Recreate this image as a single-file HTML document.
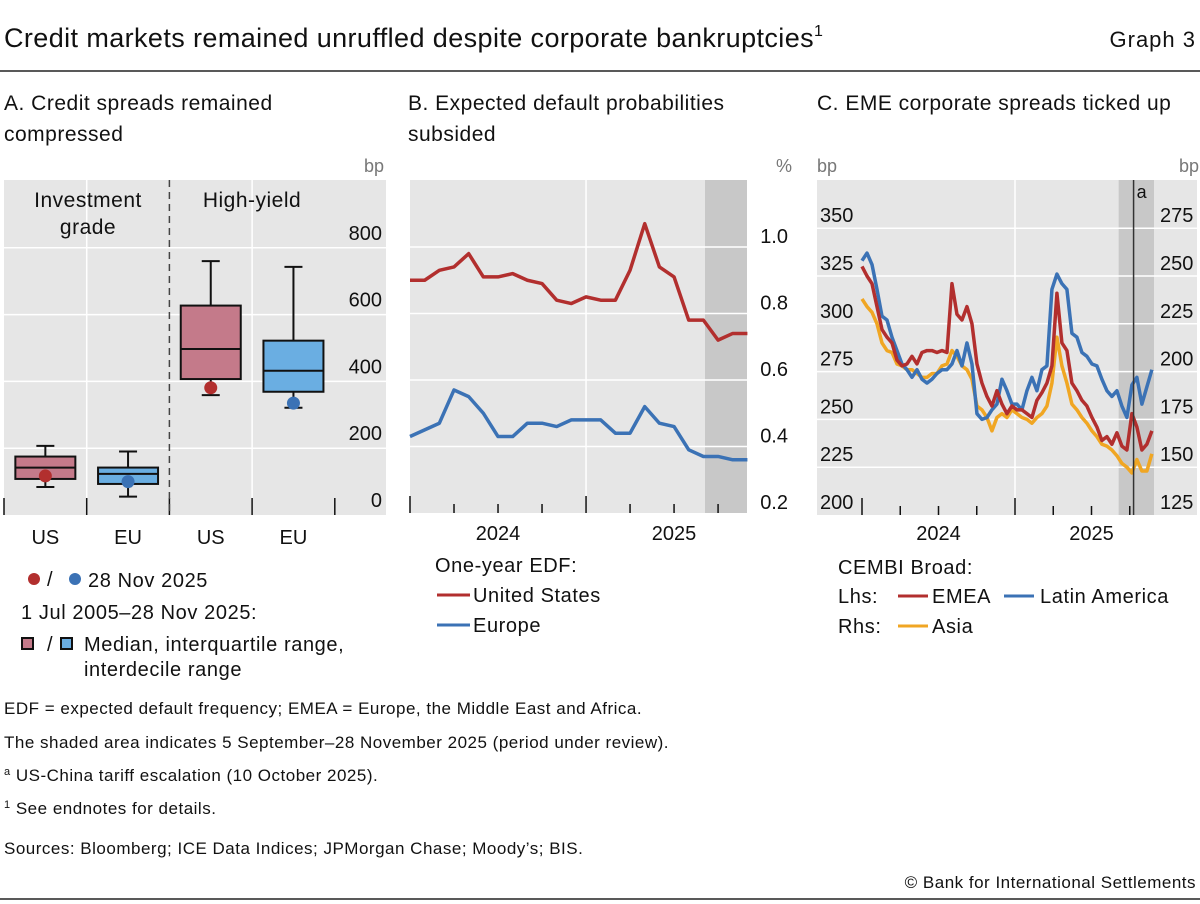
<!DOCTYPE html>
<html><head><meta charset="utf-8"><style>
body{margin:0;background:#fff;}
svg{display:block;font-family:"Liberation Sans",sans-serif;}
</style></head><body>
<svg id="c" width="1200" height="904" viewBox="0 0 1200 904" xmlns="http://www.w3.org/2000/svg">
<text x="4" y="47" font-size="27" letter-spacing="0.4" fill="#111">Credit markets remained unruffled despite corporate bankruptcies<tspan font-size="16" dy="-11">1</tspan></text>
<text x="1196" y="47" font-size="22" letter-spacing="1" text-anchor="end" fill="#111">Graph 3</text>
<line x1="0" y1="71" x2="1200" y2="71" stroke="#222" stroke-width="1.5"/>
<g font-size="21" letter-spacing="0.5" fill="#111">
<text x="4" y="110">A. Credit spreads remained<tspan x="4" y="141">compressed</tspan></text>
<text x="408" y="110">B. Expected default probabilities<tspan x="408" y="141">subsided</tspan></text>
<text x="817" y="110">C. EME corporate spreads ticked up</text>
</g>
<g id="pa"></g><g id="pb"></g><g id="pc"></g>
<g font-size="20" letter-spacing="0.6" fill="#111">
<circle cx="34" cy="579" r="6" fill="#b22f2e"/>
<text x="47" y="586">/</text>
<circle cx="75" cy="579" r="6" fill="#3b72b5"/>
<text x="88" y="587">28 Nov 2025</text>
<text x="21" y="619">1 Jul 2005–28 Nov 2025:</text>
<rect x="22" y="638" width="11" height="11" fill="#c47a8a" stroke="#111" stroke-width="2"/>
<text x="47" y="651">/</text>
<rect x="61" y="638" width="11" height="11" fill="#6aaee2" stroke="#111" stroke-width="2"/>
<text x="84" y="651">Median, interquartile range,<tspan x="84" y="676">interdecile range</tspan></text>
<text x="435" y="572">One-year EDF:</text>
<line x1="437" y1="595" x2="470" y2="595" stroke="#b22f2e" stroke-width="3"/>
<text x="473" y="602">United States</text>
<line x1="437" y1="625" x2="470" y2="625" stroke="#3b72b5" stroke-width="3"/>
<text x="473" y="632">Europe</text>
<text x="838" y="574">CEMBI Broad:</text>
<text x="838" y="603">Lhs:</text>
<line x1="898" y1="596" x2="928" y2="596" stroke="#b22f2e" stroke-width="3"/>
<text x="932" y="603">EMEA</text>
<line x1="1004" y1="596" x2="1034" y2="596" stroke="#3b72b5" stroke-width="3"/>
<text x="1040" y="603">Latin America</text>
<text x="838" y="633">Rhs:</text>
<line x1="898" y1="626" x2="928" y2="626" stroke="#f0a623" stroke-width="3"/>
<text x="932" y="633">Asia</text>
</g>
<g font-size="17" letter-spacing="0.5" fill="#111">
<text x="4" y="714">EDF = expected default frequency; EMEA = Europe, the Middle East and Africa.</text>
<text x="4" y="748">The shaded area indicates 5 September–28 November 2025 (period under review).</text>
<text x="4" y="781"><tspan font-size="11" dy="-6">a</tspan><tspan dy="6">  US-China tariff escalation (10 October 2025).</tspan></text>
<text x="4" y="814"><tspan font-size="11" dy="-6">1</tspan><tspan dy="6">  See endnotes for details.</tspan></text>
<text x="4" y="854">Sources: Bloomberg; ICE Data Indices; JPMorgan Chase; Moody’s; BIS.</text>
<text x="1196" y="888" text-anchor="end">© Bank for International Settlements</text>
</g>
<line x1="0" y1="899" x2="1200" y2="899" stroke="#222" stroke-width="1.5"/>
</svg>
<script>
// Panel A data
const boxCats = ["US","EU","US","EU"];
const boxP10 = [84,55,359,321];
const boxQ1 = [108,93,407,369];
const boxMed = [142,123,497,432];
const boxQ3 = [175,142,627,522];
const boxP90 = [207,190,760,743];
const boxLatest = [117,100,381,335];
const aTicks = [0,200,400,600,800];
// Panel B data
const edfMonths = 24;
const edfUS = [0.90,0.90,0.93,0.94,0.98,0.91,0.91,0.92,0.90,0.89,0.84,0.83,0.85,0.84,0.84,0.93,1.07,0.94,0.91,0.78,0.78,0.72,0.74,0.74];
const edfEU = [0.43,0.45,0.47,0.57,0.55,0.50,0.43,0.43,0.47,0.47,0.46,0.48,0.48,0.48,0.44,0.44,0.52,0.47,0.46,0.39,0.37,0.37,0.36,0.36];
const bTicks = [0.2,0.4,0.6,0.8,1.0];
const bYears = ["2024","2025"];
// Panel C data (months since Jan 2024, step per observation)
const cStepMonths = 0.392;
const cLatam = [333,337,331,318,304,302,293,286,279,276,272,276,271,269,271,274,276,276,279,286,278,290,279,253,250,251,255,258,271,265,258,258,255,265,272,265,276,278,318,326,321,318,295,293,285,283,279,278,271,265,262,265,257,251,268,272,258,267,276];
const cEmea = [330,325,321,309,297,293,290,281,278,279,283,279,285,286,286,285,286,285,321,305,302,309,300,279,269,262,257,265,258,253,257,255,255,253,251,260,264,269,278,316,290,286,269,265,260,257,251,246,239,241,237,243,236,234,253,246,234,237,244];
const cAsia = [238,234,231,225,215,211,210,204,203,201,201,199,197,197,199,199,203,204,211,208,203,201,196,182,180,176,169,176,178,176,180,178,176,175,173,176,178,182,194,218,203,194,183,180,176,173,169,166,162,161,159,156,152,150,147,154,148,148,157];
const cLhsTicks = [200,225,250,275,300,325,350];
const cRhsTicks = [125,150,175,200,225,250,275];
const cYears = ["2024","2025"];
const shadeStartMonth = 20.13, shadeEndMonth = 22.9, eventMonth = 21.3;

const NS="http://www.w3.org/2000/svg";
function mk(parent,tag,attrs,txt){const e=document.createElementNS(NS,tag);for(const k in attrs)e.setAttribute(k,attrs[k]);if(txt!==undefined)e.textContent=txt;parent.appendChild(e);return e;}
const RED="#b22f2e",BLUE="#3b72b5",YEL="#f0a623";

// ---- Panel A
(function(){
 const g=document.getElementById('pa');
 const x0=4,x1=386,top=180,bot=515;
 const y=v=>bot-(v/200)*66.8;
 let e=mk(g,'rect',{x:x0,y:top,width:x1-x0,height:bot-top,fill:"#e6e6e6"});
 
 aTicks.forEach(t=>{ if(t>0){let l=mk(g,'line',{x1:x0,x2:x1,y1:y(t),y2:y(t),stroke:"#fff","stroke-width":1.5});}
  let tx=mk(g,'text',{x:382,y:y(t)-8,"font-size":20,"text-anchor":"end",fill:"#111"},String(t));
  });
 e=mk(g,'text',{x:384,y:172,"font-size":18,"text-anchor":"end",fill:"#777"},"bp");
 const step=82.7, cx=i=>x0+step*(i+0.5);
 [1,3].forEach(i=>{let l=mk(g,'line',{x1:x0+step*i,x2:x0+step*i,y1:top,y2:bot,stroke:"#fff","stroke-width":1.5});});
 [0,1,2,3,4].forEach(i=>{let l=mk(g,'line',{x1:x0+step*i,x2:x0+step*i,y1:bot-17,y2:bot,stroke:"#111","stroke-width":1.5});});
 e=mk(g,'line',{x1:x0+step*2,x2:x0+step*2,y1:top,y2:bot,stroke:"#444","stroke-width":1.5,"stroke-dasharray":"7,5"});
 e=mk(g,'text',{x:88,y:207,"font-size":21,"letter-spacing":0.5,"text-anchor":"middle",fill:"#111"},"Investment");
 mk(g,'text',{x:88,y:234,"font-size":21,"letter-spacing":0.5,"text-anchor":"middle",fill:"#111"},"grade");
 e=mk(g,'text',{x:252,y:207,"font-size":21,"letter-spacing":0.5,"text-anchor":"middle",fill:"#111"},"High-yield");
 boxCats.forEach((c,i)=>{
  const X=cx(i), w=60, fill=i%2===0?"#c47a8a":"#6aaee2", dot=i%2===0?RED:BLUE;
  let wl=mk(g,'line',{x1:X,x2:X,y1:y(boxP90[i]),y2:y(boxP10[i]),stroke:"#111","stroke-width":2});
  
  [boxP90[i],boxP10[i]].forEach(v=>{let c2=mk(g,'line',{x1:X-9,x2:X+9,y1:y(v),y2:y(v),stroke:"#111","stroke-width":2});});
  let r=mk(g,'rect',{x:X-w/2,y:y(boxQ3[i]),width:w,height:y(boxQ1[i])-y(boxQ3[i]),fill:fill,stroke:"#111","stroke-width":2});
  
  let m=mk(g,'line',{x1:X-w/2,x2:X+w/2,y1:y(boxMed[i]),y2:y(boxMed[i]),stroke:"#111","stroke-width":2});
  
  let d=mk(g,'circle',{cx:X,cy:y(boxLatest[i]),r:6.5,fill:dot});
  
  let t=mk(g,'text',{x:X,y:544,"font-size":20,"text-anchor":"middle",fill:"#111"},c);
  
 });
})();

// ---- Panel B
(function(){
 const g=document.getElementById('pb');
 const x0=410,x1=747,top=180,bot=513;
 const xm=m=>410+m*14.67;
 const y=v=>bot-(v-0.2)/0.2*66.5;
 let e=mk(g,'rect',{x:x0,y:top,width:x1-x0,height:bot-top,fill:"#e6e6e6"});
 e=mk(g,'rect',{x:705,y:top,width:x1-705,height:bot-top,fill:"#c8c8c8"});
 bTicks.forEach(t=>{ if(t>0.2){let l=mk(g,'line',{x1:x0,x2:x1,y1:y(t),y2:y(t),stroke:"#fff","stroke-width":1.5});}
  let tx=mk(g,'text',{x:788,y:y(t)-4,"font-size":20,"text-anchor":"end",fill:"#111"},t.toFixed(1));});
 e=mk(g,'text',{x:792,y:172,"font-size":18,"text-anchor":"end",fill:"#777"},"%");
 let l=mk(g,'line',{x1:xm(12),x2:xm(12),y1:top,y2:bot,stroke:"#fff","stroke-width":1.5});
 for(let m=0;m<=21;m+=3){let t=mk(g,'line',{x1:xm(m),x2:xm(m),y1:m%12===0?bot-17:bot-9,y2:bot,stroke:"#111","stroke-width":1.5});}
 bYears.forEach((yr,i)=>{let t=mk(g,'text',{x:xm(6+12*i),y:540,"font-size":20,"text-anchor":"middle",fill:"#111"},yr);});
 [[edfUS,RED,'line-united-states'],[edfEU,BLUE,'line-europe']].forEach(([d,c,n])=>{
  const p=mk(g,'polyline',{points:d.map((v,i)=>xm(i)+','+y(v)).join(' '),fill:"none",stroke:c,"stroke-width":3.5,"stroke-linejoin":"round"});
  });
})();

// ---- Panel C
(function(){
 const g=document.getElementById('pc');
 const x0=817,x1=1197,top=180,bot=515;
 const xm=m=>862+m*12.75;
 const yl=v=>bot-(v-200)/25*47.8;
 const yr=v=>bot-(v-125)/25*47.8;
 let e=mk(g,'rect',{x:x0,y:top,width:x1-x0,height:bot-top,fill:"#e6e6e6"});
 e=mk(g,'rect',{x:xm(shadeStartMonth),y:top,width:xm(shadeEndMonth)-xm(shadeStartMonth),height:bot-top,fill:"#c8c8c8"});
 cLhsTicks.forEach((t,i)=>{ if(t>200){let l=mk(g,'line',{x1:x0,x2:x1,y1:yl(t),y2:yl(t),stroke:"#fff","stroke-width":1.5});}
  let a=mk(g,'text',{x:820,y:yl(t)-6,"font-size":20,fill:"#111"},String(t));
  let b=mk(g,'text',{x:1160,y:yr(cRhsTicks[i])-6,"font-size":20,fill:"#111"},String(cRhsTicks[i]));});
 e=mk(g,'text',{x:817,y:172,"font-size":18,fill:"#777"},"bp");
 e=mk(g,'text',{x:1199,y:172,"font-size":18,"text-anchor":"end",fill:"#777"},"bp");
 let l=mk(g,'line',{x1:xm(12),x2:xm(12),y1:top,y2:bot,stroke:"#fff","stroke-width":1.5});
 for(let m=0;m<=21;m+=3){let t=mk(g,'line',{x1:xm(m),x2:xm(m),y1:m%12===0?bot-17:bot-9,y2:bot,stroke:"#111","stroke-width":1.5});}
 cYears.forEach((yy,i)=>{let t=mk(g,'text',{x:xm(6+12*i),y:540,"font-size":20,"text-anchor":"middle",fill:"#111"},yy);});
 [[cAsia,YEL,yr,'line-asia'],[cLatam,BLUE,yl,'line-latin-america'],[cEmea,RED,yl,'line-emea']].forEach(([d,c,yf,n])=>{
  const p=mk(g,'polyline',{points:d.map((v,i)=>xm(i*cStepMonths)+','+yf(v)).join(' '),fill:"none",stroke:c,"stroke-width":3.5,"stroke-linejoin":"round"});
  });
 e=mk(g,'line',{x1:xm(eventMonth),x2:xm(eventMonth),y1:top,y2:bot,stroke:"#333","stroke-width":1.5});
 e=mk(g,'text',{x:xm(eventMonth)+3,y:198,"font-size":18,fill:"#111"},"a");
})();
</script>
</body></html>
